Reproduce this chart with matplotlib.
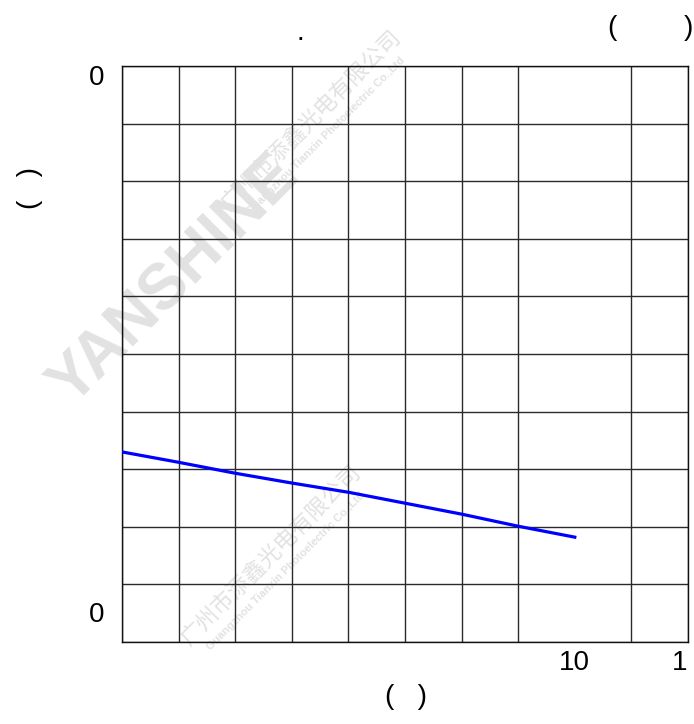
import matplotlib
matplotlib.use("Agg")
import matplotlib.pyplot as plt
import numpy as np

plt.rcParams['font.family'] = ['Liberation Sans', 'DejaVu Sans']

# curve (grid units)
x_vals = [2, 3, 4, 5, 6, 7, 8, 9, 10]
y_vals = [3.30, 3.12, 2.93, 2.76, 2.60, 2.41, 2.22, 2.01, 1.82]

x_ticks = [10, 11.85]
x_tick_labels = ["10", "1"]
y_ticks = [0.52, 9.84]
y_tick_labels = ["0", "0"]

fig = plt.figure(figsize=(6.94, 7.24), dpi=100)
ax = fig.add_axes([122 / 694, 82 / 724, 566 / 694, 576 / 724])
ax.set_facecolor('none')

# watermark, behind the grid
wm = dict(color='#e2e2e2', rotation=45, ha='center', va='center', zorder=-1)
fig.text(175 / 694, 1 - 280 / 724, "YANSHINE", fontsize=46, fontweight='bold', **wm)
cn = ['Noto Sans CJK SC', 'DejaVu Sans']
for cx, cy in [(310, 120), (270, 555)]:
    fig.text(cx / 694, 1 - cy / 724, "广州市添鑫光电有限公司", fontsize=16,
             family=cn, **wm)
    fig.text((cx + 16) / 694, 1 - (cy + 16) / 724,
             "Guangzhou Tianxin Photoelectric Co.,Ltd", fontsize=8,
             fontweight='bold', **wm)

ax.plot(x_vals, y_vals, color='#0000ff', lw=2.3, zorder=3)

ax.set_xlim(2, 12)
ax.set_ylim(0, 10)
ax.set_xticks(np.arange(2, 13), minor=True)
ax.set_yticks(np.arange(0, 11), minor=True)
ax.grid(which='minor', color='#2a2a2a', lw=1.0)
ax.set_xticks(x_ticks, x_tick_labels, fontsize=20)
ax.set_yticks(y_ticks, y_tick_labels, fontsize=20)
ax.tick_params(which='both', length=0)
ax.tick_params(axis='x', pad=6)
ax.tick_params(axis='y', pad=13)
for s in ax.spines.values():
    s.set_color('#111111')
    s.set_linewidth(1.0)

fig.text(300 / 694, 1 - 33 / 724, ".", fontsize=20, ha='center', va='center')
fig.text(612 / 694, 1 - 28 / 724, "(", fontsize=20, ha='center', va='center')
fig.text(688 / 694, 1 - 28 / 724, ")", fontsize=20, ha='center', va='center')
fig.text(406 / 694, 1 - 697 / 724, "(   )", fontsize=20, ha='center', va='center')
fig.text(30 / 694, 1 - 188 / 724, "(   )", fontsize=20, ha='center', va='center',
         rotation=90)

fig.savefig("out.png", dpi=100)
